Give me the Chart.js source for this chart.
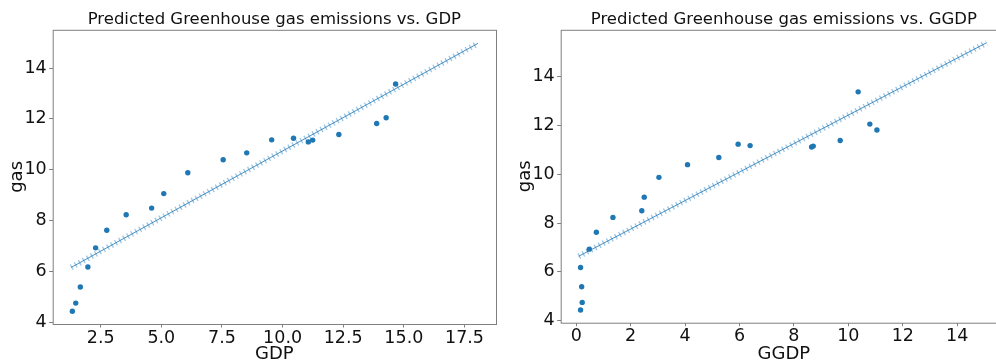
<!DOCTYPE html>
<html>
<head>
<meta charset="utf-8">
<script src="https://cdn.jsdelivr.net/npm/chart.js@4"></script>
<style>
  html, body { margin: 0; padding: 0; background: #fff; overflow: hidden; }
  body { width: 996px; height: 363px; position: relative; }
  canvas { position: absolute; top: 0; }
  #gdpChart { left: 0; }
  #ggdpChart { left: 500px; }
</style>
</head>
<body>
<canvas id="gdpChart" width="500" height="363"></canvas>
<canvas id="ggdpChart" width="520" height="363"></canvas>
<script>
// observed values, left panel (gas vs GDP)
const gdp = [1.33, 1.47, 1.66, 1.97, 2.29, 2.75, 3.55, 4.60, 5.10, 6.09, 7.55, 8.52, 9.55, 10.45, 11.06, 11.24, 12.32, 13.88, 14.27, 14.66];
const gasByGdp = [4.45, 4.77, 5.40, 6.19, 6.94, 7.63, 8.24, 8.50, 9.07, 9.89, 10.40, 10.67, 11.18, 11.24, 11.10, 11.17, 11.39, 11.82, 12.05, 13.37];
// predicted line endpoints
const gdpLineX = [1.28, 18.06];
const gdpLineY = [6.17, 14.97];

// observed values, right panel (gas vs GGDP)
const ggdp = [0.16, 0.22, 0.20, 0.16, 0.48, 0.74, 1.35, 2.41, 2.50, 3.04, 4.09, 5.24, 5.95, 6.39, 8.65, 8.71, 9.70, 10.36, 10.79, 11.05];
const gasByGgdp = [4.44, 4.75, 5.39, 6.18, 6.93, 7.62, 8.23, 8.50, 9.06, 9.87, 10.39, 10.68, 11.23, 11.17, 11.11, 11.15, 11.38, 13.37, 12.05, 11.81];
const ggdpLineX = [0.09, 15.08];
const ggdpLineY = [6.64, 15.38];

// ticks
const gdpTicks = [2.5, 5, 7.5, 10, 12.5, 15, 17.5];
const ggdpTicks = [0, 2, 4, 6, 8, 10, 12, 14];
const gasTicks = [4, 6, 8, 10, 12, 14];

const BLUE = '#1f77b4';
const FRAME = '#7f7f7f';
const FONT = "'DejaVu Sans', 'Liberation Sans', sans-serif";

const toPoints = (xs, ys) => xs.map((x, i) => ({ x: x, y: ys[i] }));

// matplotlib-like box round the plot area
const framePlugin = {
    id: 'frame',
    afterDatasetsDraw(chart) {
        const a = chart.chartArea;
        const c = chart.ctx;
        c.save();
        c.strokeStyle = FRAME;
        c.lineWidth = 1;
        c.strokeRect(a.left + 0.5, a.top + 0.5, a.right - a.left, a.bottom - a.top);
        c.restore();
    }
};

function makeChart(id, cfg) {
    return new Chart(document.getElementById(id), {
        type: 'scatter',
        data: {
            datasets: [
                {
                    data: toPoints(cfg.xs, cfg.ys),
                    backgroundColor: BLUE,
                    borderColor: BLUE,
                    pointRadius: 2.7,
                    borderWidth: 0,
                },
                {
                    // thin prediction line
                    data: toPoints(cfg.lineX, cfg.lineY),
                    showLine: true,
                    pointRadius: 0,
                    borderColor: 'rgba(31,119,180,0.8)',
                    borderWidth: 1,
                },
                {
                    // 'x' markers along the line
                    data: toPoints(cfg.lineX, cfg.lineY),
                    showLine: true,
                    pointRadius: 0,
                    borderColor: 'rgba(90,160,210,0.6)',
                    borderWidth: 6,
                    borderDash: [1.3, 3.3],
                    borderCapStyle: 'butt',
                },
            ],
        },
        options: {
            responsive: false,
            animation: false,
            devicePixelRatio: 1,
            layout: { padding: { left: 0, right: cfg.padRight, top: 0, bottom: 0 } },
            plugins: {
                legend: { display: false },
                tooltip: { enabled: false },
                title: {
                    display: true,
                    text: cfg.title,
                    fullSize: false,
                    color: '#111',
                    font: { family: FONT, size: 16.5, weight: 'normal', lineHeight: 1.2 },
                    padding: { top: 10, bottom: 0 },
                },
            },
            scales: {
                x: {
                    type: 'linear',
                    min: cfg.xMin,
                    max: cfg.xMax,
                    afterBuildTicks: (s) => { s.ticks = cfg.xTicks.map(v => ({ value: v })); },
                    afterFit: (s) => { s.height = cfg.xHeight; },
                    grid: { display: true, drawOnChartArea: false, drawTicks: true, tickLength: 3.5, color: FRAME },
                    border: { display: false },
                    ticks: {
                        color: '#111',
                        padding: 0,
                        maxRotation: 0,
                        autoSkip: false,
                        font: { family: FONT, size: 17.5, lineHeight: 1.2 },
                        callback: cfg.xFormat,
                    },
                    title: {
                        display: true,
                        text: cfg.xLabel,
                        color: '#111',
                        font: { family: FONT, size: 18, lineHeight: 1 },
                        padding: 0,
                    },
                },
                y: {
                    type: 'linear',
                    min: cfg.yMin,
                    max: cfg.yMax,
                    afterBuildTicks: (s) => { s.ticks = gasTicks.map(v => ({ value: v })); },
                    afterFit: (s) => { s.width = cfg.yWidth; },
                    grid: { display: true, drawOnChartArea: false, drawTicks: true, tickLength: 3.5, color: FRAME },
                    border: { display: false },
                    ticks: {
                        color: '#111',
                        padding: 2.5,
                        autoSkip: false,
                        font: { family: FONT, size: 17.5, lineHeight: 1.2 },
                        callback: (v) => String(v),
                    },
                    title: {
                        display: true,
                        text: 'gas',
                        color: '#111',
                        font: { family: FONT, size: 18, lineHeight: 1.2 },
                        padding: { top: cfg.yTitlePad, bottom: 0 },
                    },
                },
            },
        },
        plugins: [framePlugin],
    });
}

makeChart('gdpChart', {
    title: 'Predicted Greenhouse gas emissions vs. GDP',
    xs: gdp, ys: gasByGdp,
    lineX: gdpLineX, lineY: gdpLineY,
    xMin: 0.52, xMax: 18.8, yMin: 3.95, yMax: 15.5,
    xTicks: gdpTicks,
    xFormat: (v) => Number(v).toFixed(1),
    xLabel: 'GDP',
    yWidth: 52.7, xHeight: 39, padRight: 3, yTitlePad: 6.7,
});

makeChart('ggdpChart', {
    title: 'Predicted Greenhouse gas emissions vs. GGDP',
    xs: ggdp, ys: gasByGgdp,
    lineX: ggdpLineX, lineY: ggdpLineY,
    xMin: -0.57, xMax: 15.83, yMin: 3.92, yMax: 15.91,
    xTicks: ggdpTicks,
    xFormat: (v) => String(v),
    xLabel: 'GGDP',
    yWidth: 60.7, xHeight: 40.3, padRight: 13, yTitlePad: 14.7,
});
</script>
</body>
</html>
